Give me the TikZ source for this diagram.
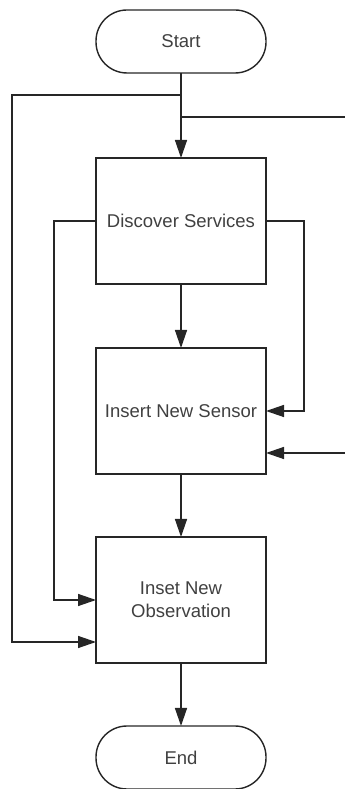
\documentclass[tikz,border=0pt]{standalone}
\usepackage{fontspec}
\setmainfont{Liberation Sans}
\usetikzlibrary{positioning, arrows.meta}

\begin{document}
\begin{tikzpicture}[
    x=1pt, y=1pt,
    node distance=64pt,
    line width=1.4pt, draw=black!85,
    every node/.style={font=\fontsize{18.5}{23}\selectfont, text=black!75},
    block/.style={rectangle, draw=black!85, minimum width=170pt, minimum height=126pt, align=center, inner sep=0pt, outer sep=0pt},
    term/.style={rectangle, draw=black!85, rounded corners=31pt, minimum width=170pt, minimum height=63pt, inner sep=0pt, outer sep=0pt},
    arr/.style={-{Triangle[length=18pt, width=12pt]}},
]
    \useasboundingbox (0,0) rectangle (345,789);

    \node[term] (start) at (181,747.5) {Start};
    \node[block, below=85pt of start] (disc) {Discover Services};
    \node[block, below=of disc] (sens) {Insert New Sensor};
    \node[block, below=63pt of sens] (obs) {Inset New\\Observation};
    \node[term, below=63pt of obs] (end) {End};

    % loose ends at the right edge
    \coordinate (split) at ([yshift=-22pt]start.south);
    \coordinate (feedA) at (345,672);
    \coordinate (feedB) at (345,336);

    \draw[arr] (start) -- (disc);
    \draw[arr] (disc) -- (sens);
    \draw[arr] (sens) -- (obs);
    \draw[arr] (obs) -- (end);

    % side loops
    \draw[arr] (split) -- ++(-169,0) |- ([yshift=-42pt]obs.west);
    \draw (feedA) -- (feedA -| disc);
    \draw[arr] (disc.west) -- ++(-42,0) |- (obs.west);
    \draw[arr] (disc.east) -- ++(38,0) |- (sens.east);
    \draw[arr] (feedB) -- (feedB -| sens.east);
\end{tikzpicture}
\end{document}
